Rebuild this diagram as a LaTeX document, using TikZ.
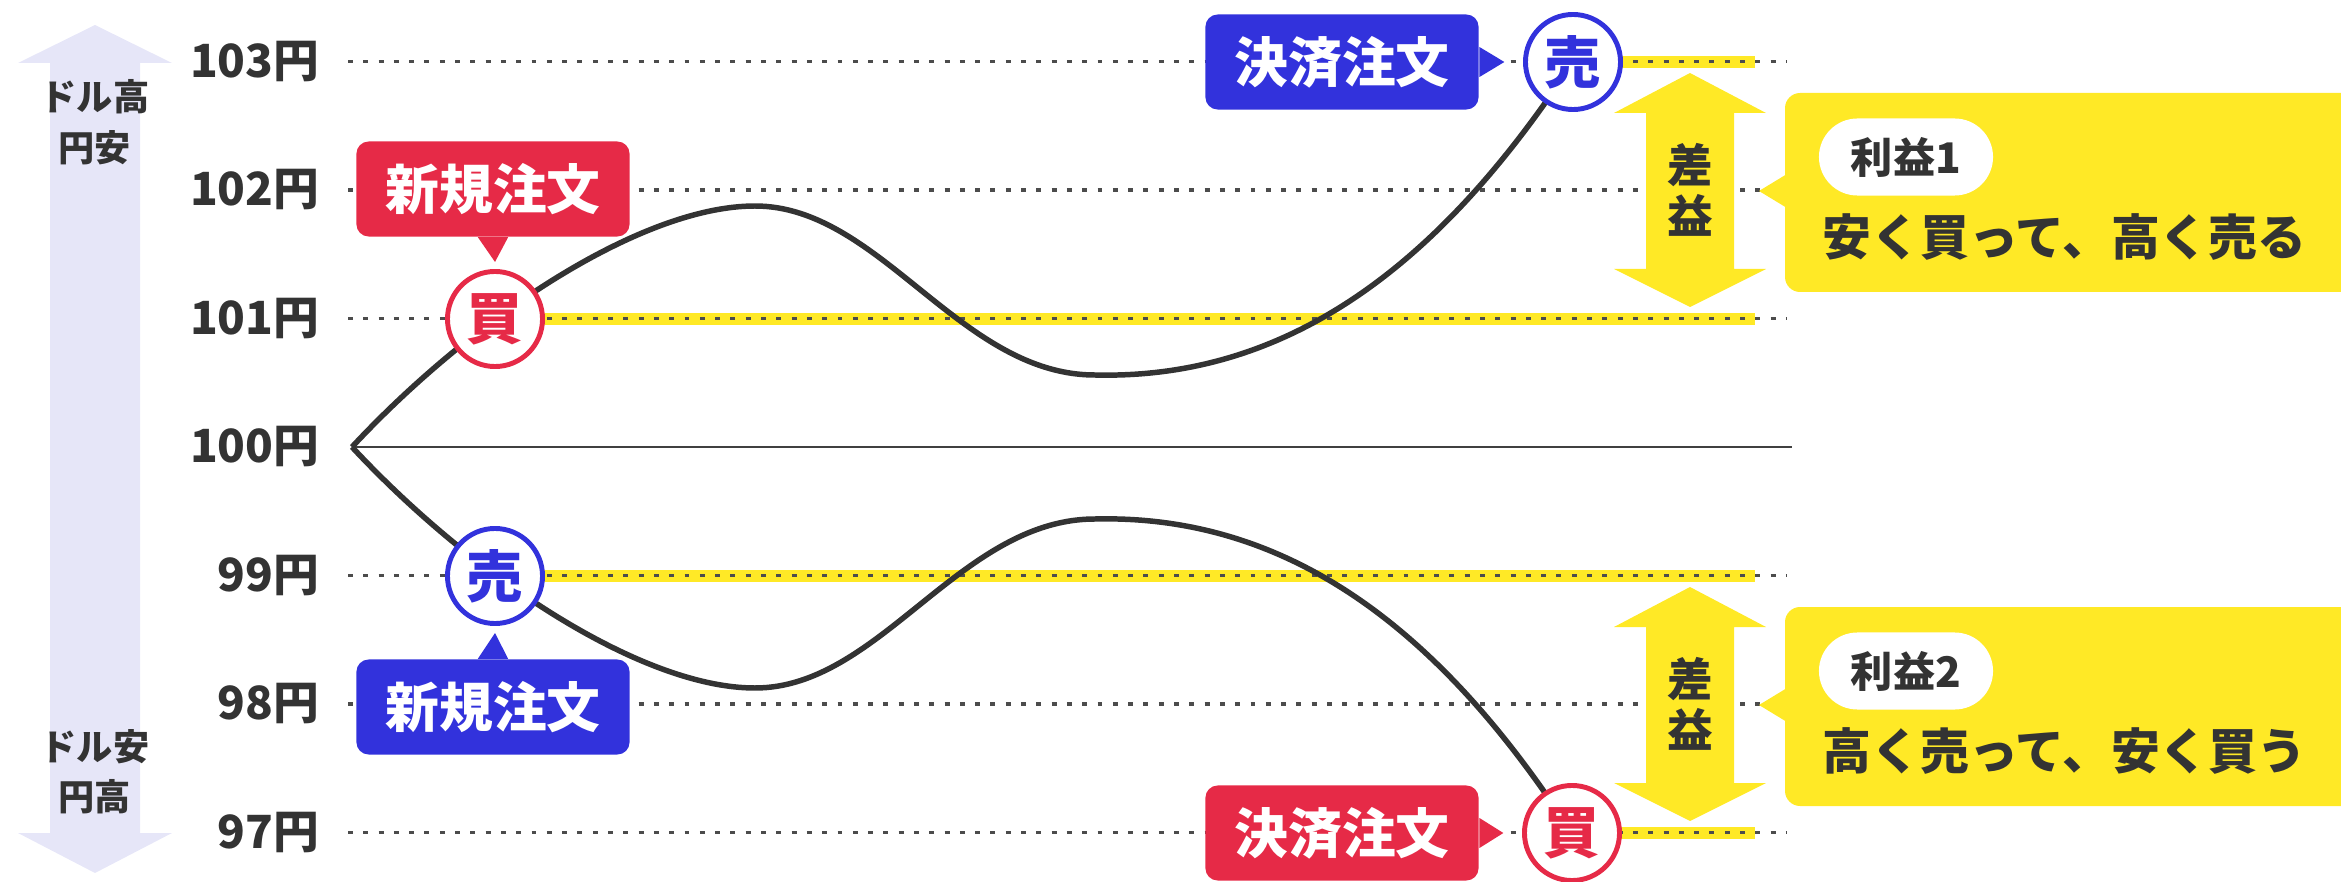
\documentclass[tikz,border=0pt]{standalone}
\usepackage{fontspec}
\setmainfont{Noto Sans CJK JP}
\definecolor{txt}{HTML}{333333}
\definecolor{redbox}{HTML}{E62A47}
\definecolor{bluebox}{HTML}{3232DC}
\definecolor{hl}{HTML}{FFE926}
\definecolor{lav}{HTML}{E6E6F8}
\begin{document}
\begin{tikzpicture}[x=.01cm,y=-.01cm, every node/.style={font=\bfseries,text=txt,inner sep=0pt},
    price/.style={anchor=east,font=\fontsize{13}{13}\bfseries},
    side/.style={font=\fontsize{10.3}{10.3}\bfseries},
    guide/.style={draw=black!70,line width=.9pt,dash pattern=on 1.4pt off 2.95pt},
    order/.style={rounded corners=3.5pt,minimum width=2.73cm,minimum height=.95cm,text=white,font=\fontsize{15.3}{15.3}\bfseries},
    tradecirc/.style={circle,fill=white,line width=1.4pt,minimum size=.95cm,font=\fontsize{16}{16}\bfseries},
    pricepath/.style={draw=txt,line width=1.56pt}]
  \useasboundingbox (0,0) rectangle (2341,882);
  \clip (0,0) rectangle (2341,882);
  % side arrow
  \fill[lav] (95,25) -- (172,63) -- (140,63) -- (140,833) -- (172,833) -- (95,873)
    -- (18,833) -- (50,833) -- (50,63) -- (18,63) -- cycle;
  \node[side] (high1) at (95,97) {ドル高};
  \node[side] (high2) at (95,148) {円安};
  \node[side] (low1) at (95,747) {ドル安};
  \node[side] (low2) at (95,797) {円高};
  % highlight bands
  \foreach \xa/\yy in {495/319,1573/62,495/576,1572/833}
    \fill[hl] (\xa,\yy-6) rectangle (1755,\yy+6);
  % price levels
  \foreach \p in {97,...,103} {
    \pgfmathsetmacro{\yy}{447-(\p-100)*128.5}
    \node[price] (p\p) at (320,\yy) {\p 円};
    \ifnum\p=100\else
      \draw[guide] (348,\yy) -- (1786,\yy);
    \fi
  }
  \coordinate (start) at (352,447);
  \coordinate (flatend) at (1792,447);
  \draw[black!75,line width=.6pt] (start) -- (flatend);
  % profit arrows and callouts
  \foreach \dy/\n/\say in {0/1/安く買って、高く売る,514/2/高く売って、安く買う} {
    \begin{scope}[shift={(0,\dy)}]
      \fill[hl] (1690,73) -- (1766,113) -- (1734,113) -- (1734,269) -- (1766,269) -- (1690,307)
        -- (1614,269) -- (1646,269) -- (1646,113) -- (1614,113) -- cycle;
      \node[align=center,font=\fontsize{13}{14.5}\bfseries] (gain\n) at (1690,190) {差\\益};
      \fill[hl,rounded corners=4.3pt] (1785,93) rectangle (2390,292);
      \fill[hl] (1759,191) -- (1787,174) -- (1787,208) -- cycle;
      \node[fill=white,rounded corners=.385cm,minimum width=1.74cm,minimum height=.77cm,
        font=\fontsize{12}{12}\bfseries] (pill\n) at (1906,157) {利益\n};
      \node[anchor=west,font=\fontsize{13.9}{13.9}\bfseries] (say\n) at (1822,237) {\say};
    \end{scope}
  }
  % price paths
  \coordinate (b1) at (495,319);
  \coordinate (s1) at (1573,62);
  \coordinate (s2) at (495,576);
  \coordinate (b2) at (1572,833);
  \draw[pricepath] (start) .. controls (470,320) and (640,206) .. (755,206)
    .. controls (880,206) and (960,375) .. (1095,375)
    .. controls (1300,380) and (1450,250) .. (s1);
  \draw[pricepath] (start) .. controls (470,574) and (640,688) .. (755,688)
    .. controls (880,688) and (960,519) .. (1095,519)
    .. controls (1300,514) and (1450,644) .. (b2);
  % orders
  \node[tradecirc,draw=redbox,text=redbox] (buy1) at (b1) {買};
  \node[tradecirc,draw=bluebox,text=bluebox] (sell1) at (s1) {売};
  \node[tradecirc,draw=bluebox,text=bluebox] (sell2) at (s2) {売};
  \node[tradecirc,draw=redbox,text=redbox] (buy2) at (b2) {買};
  \node[order,fill=redbox] (new1) at (493,189) {新規注文};
  \fill[redbox] ([xshift=-4.3pt]new1.south) -- ([xshift=4.3pt]new1.south) -- ([yshift=2pt]buy1.north) -- cycle;
  \node[order,fill=bluebox] (new2) at (493,707) {新規注文};
  \fill[bluebox] ([xshift=-4.3pt]new2.north) -- ([xshift=4.3pt]new2.north) -- ([yshift=-2pt]sell2.south) -- cycle;
  \node[order,fill=bluebox] (close1) at (1342,62) {決済注文};
  \fill[bluebox] ([yshift=4.3pt]close1.east) -- ([yshift=-4.3pt]close1.east) -- ([xshift=-5.3pt]sell1.west) -- cycle;
  \node[order,fill=redbox] (close2) at (1342,833) {決済注文};
  \fill[redbox] ([yshift=4.3pt]close2.east) -- ([yshift=-4.3pt]close2.east) -- ([xshift=-5.3pt]buy2.west) -- cycle;
\end{tikzpicture}
\end{document}
